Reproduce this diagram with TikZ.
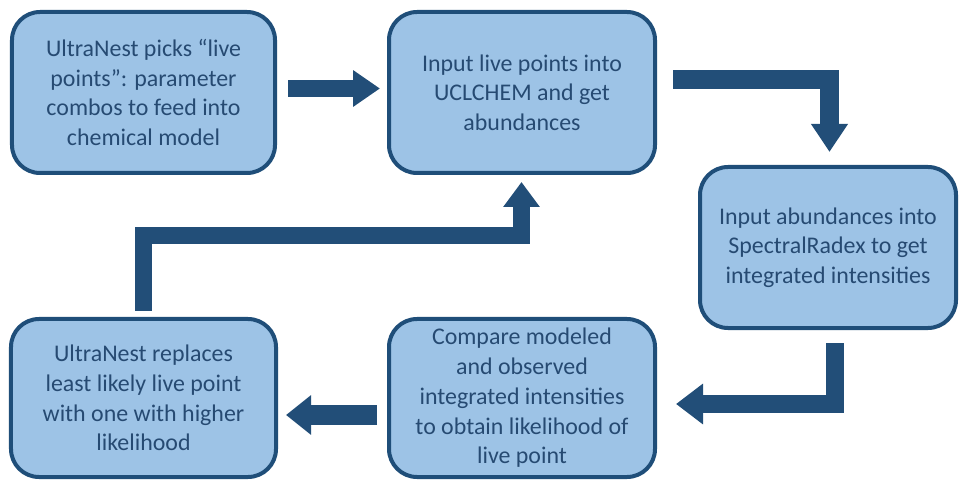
\documentclass[tikz,border=0pt]{standalone}
\usepackage{fontspec}
\setmainfont{Carlito}
\usetikzlibrary{arrows.meta,calc}
\definecolor{boxfill}{RGB}{157,195,230}
\definecolor{edgeblue}{RGB}{31,78,121}
\definecolor{arrowblue}{RGB}{34,78,120}
\definecolor{textblue}{RGB}{38,74,114}
\begin{document}
\begin{tikzpicture}[x=1bp,y=-1bp,
  stepbox/.style={draw=edgeblue, line width=4bp, fill=boxfill, rounded corners=28bp,
    rectangle, inner sep=0pt, outer sep=0pt, align=center, text=textblue,
    font=\fontsize{24pt}{29.8pt}\selectfont},
  blockarrow/.style={draw=arrowblue, line join=miter, line cap=butt}
]
\useasboundingbox (0,0) rectangle (961,481);

\node[stepbox, minimum width=263bp, minimum height=161bp] (b1) at (143.5,92.5)
  {UltraNest picks “live\\points”: parameter\\combos to feed into\\chemical model};
\node[stepbox, minimum width=266bp, minimum height=161bp] (b2) at (522,92.5)
  {Input live points into\\UCLCHEM and get\\abundances};
\node[stepbox, minimum width=256bp, minimum height=161bp] (b3) at (828,247.5)
  {Input abundances into\\SpectralRadex to get\\integrated intensities};
\node[stepbox, minimum width=266bp, minimum height=158bp] (b4) at (522,398)
  {Compare modeled\\and observed\\integrated intensities\\to obtain likelihood of\\live point};
\node[stepbox, minimum width=265bp, minimum height=158bp] (b5) at (143.5,398)
  {UltraNest replaces\\least likely live point\\with one with higher\\likelihood};

% b1 -> b2
\draw[blockarrow, line width=17bp, -{Triangle[width=35bp,length=27bp]}]
  ($(b1.east)+(13,-4)$) -- ($(b2.west)+(-9,-4)$);
% b2 -> b3
\draw[blockarrow, line width=19bp, -{Triangle[width=35bp,length=28bp]}]
  ($(b2.east)+(18,-13)$) -| ($(b3.north)+(1.5,-15)$);
% b3 -> b4
\draw[blockarrow, line width=18bp, -{Triangle[width=39bp,length=27bp]}]
  ($(b3.south)+(7,15)$) |- ($(b4.east)+(21,6)$);
% b4 -> b5
\draw[blockarrow, line width=20bp, -{Triangle[width=38bp,length=25bp]}]
  ($(b4.west)+(-12,17)$) -- ($(b5.east)+(10,17)$);
% b5 -> b2
\draw[blockarrow, line width=17.5bp, -{Triangle[width=35bp,length=25bp]}]
  ($(b5.north)+(0,-8)$) -- ++(0,-75.5) -| ($(b2.south)+(-0.5,9)$);
\end{tikzpicture}
\end{document}
